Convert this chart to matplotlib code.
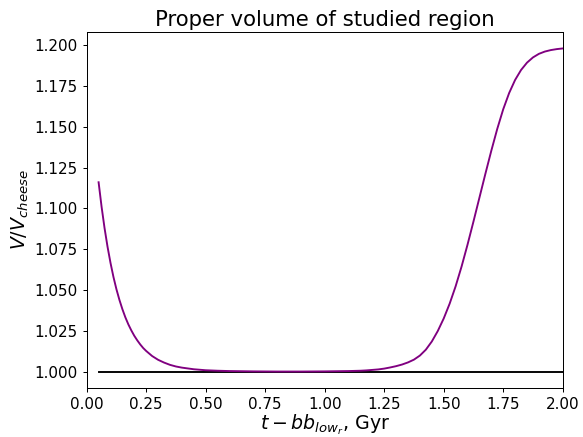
import matplotlib
matplotlib.use("Agg")
import matplotlib.pyplot as plt
import matplotlib.ticker as mt

# Purple curve: proper volume ratio vs time
t_vals = [0.0500, 0.0625, 0.0750, 0.0875, 0.1000, 0.1125, 0.1250, 0.1375, 0.1500, 0.1625,
          0.1750, 0.1875, 0.2000, 0.2125, 0.2250, 0.2375, 0.2500, 0.2750, 0.3000, 0.3250,
          0.3500, 0.3750, 0.4000, 0.4500, 0.5000, 0.5500, 0.6000, 0.6500, 0.7000, 0.8000,
          0.9000, 1.0000, 1.0500, 1.1000, 1.1500, 1.1750, 1.2000, 1.2250, 1.2500, 1.2750,
          1.3000, 1.3250, 1.3500, 1.3750, 1.4000, 1.4250, 1.4500, 1.4750, 1.5000, 1.5250,
          1.5500, 1.5750, 1.6000, 1.6250, 1.6500, 1.6750, 1.7000, 1.7250, 1.7500, 1.7750,
          1.8000, 1.8250, 1.8500, 1.8750, 1.9000, 1.9250, 1.9500, 1.9750, 2.0000]
v_ratio = [1.1160, 1.1010, 1.0879, 1.0765, 1.0666, 1.0579, 1.0504, 1.0439, 1.0382, 1.0332,
           1.0289, 1.0252, 1.0219, 1.0191, 1.0166, 1.0144, 1.0126, 1.0095, 1.0072, 1.0055,
           1.0041, 1.0031, 1.0024, 1.0014, 1.0008, 1.0005, 1.0003, 1.0002, 1.0001, 1.0000,
           1.0000, 1.0001, 1.0002, 1.0003, 1.0005, 1.0007, 1.0010, 1.0013, 1.0018, 1.0025,
           1.0033, 1.0043, 1.0056, 1.0073, 1.0098, 1.0134, 1.0184, 1.0248, 1.0325, 1.0416,
           1.0522, 1.0643, 1.0777, 1.0919, 1.1065, 1.1211, 1.1353, 1.1487, 1.1607, 1.1707,
           1.1787, 1.1848, 1.1893, 1.1925, 1.1947, 1.1961, 1.1970, 1.1976, 1.1980]

# Black reference line
ref_t = [0.05, 2.0]
ref_v = [1.0, 1.0]

title = "Proper volume of studied region"
xlabel = r"$t - bb_{low_r}$, Gyr"
ylabel = r"$V/V_{cheese}$"

fig = plt.figure(figsize=(583 / 91, 437 / 91), dpi=91)
ax = fig.add_axes([86.7 / 583, 1 - 387.7 / 437, (562.7 - 86.7) / 583, (387.7 - 32.3) / 437])
ax.plot(ref_t, ref_v, color="black", lw=1.5)
ax.plot(t_vals, v_ratio, color="purple", lw=1.5)
ax.set_xlim(0, 2.0)
ax.set_title(title, fontsize=16.8, pad=5)
ax.set_xlabel(xlabel, fontsize=15, labelpad=1)
ax.set_ylabel(ylabel, fontsize=15, labelpad=3)
ax.tick_params(labelsize=12)
ax.yaxis.set_major_formatter(mt.FormatStrFormatter("%.3f"))
ax.xaxis.set_major_formatter(mt.FormatStrFormatter("%.2f"))
fig.savefig("out.png", dpi=91)
